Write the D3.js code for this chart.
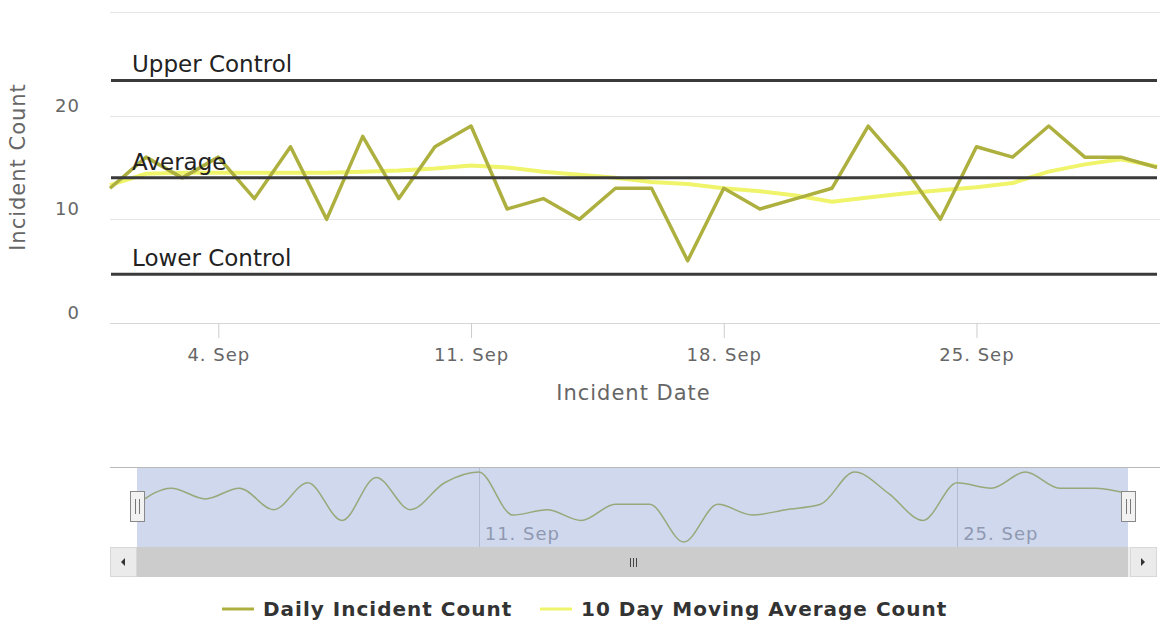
<!DOCTYPE html>
<html>
<head>
<meta charset="utf-8">
<script src="https://cdn.jsdelivr.net/npm/d3@7"></script>
<style>
  body { margin: 0; background: #fff; }
  svg text { font-family: 'DejaVu Sans', sans-serif; }
  .grid line { stroke: #e6e6e6; stroke-width: 1; }
  .tick-label { fill: #666; font-size: 18px; letter-spacing: 1px; }
  .axis-title { fill: #666; font-size: 21px; letter-spacing: 1px; }
  .control-label { fill: #222; font-size: 23px; }
  .legend-label { fill: #333; font-size: 20px; font-weight: bold; letter-spacing: 1px; }
</style>
</head>
<body>
<div id="chart"></div>
<script>
// daily points, 1. Sep .. 30. Sep
var days = ['2016-09-01','2016-09-02','2016-09-03','2016-09-04','2016-09-05','2016-09-06',
  '2016-09-07','2016-09-08','2016-09-09','2016-09-10','2016-09-11','2016-09-12',
  '2016-09-13','2016-09-14','2016-09-15','2016-09-16','2016-09-17','2016-09-18',
  '2016-09-19','2016-09-20','2016-09-21','2016-09-22','2016-09-23','2016-09-24',
  '2016-09-25','2016-09-26','2016-09-27','2016-09-28','2016-09-29','2016-09-30'];
var dailyCount = [13,16,14,16,12,17,10,18,12,17,19,11,12,10,13,13,6,13,11,12,13,19,15,10,17,16,19,16,16,15];
var movingAvg = [13.3,14.4,14.5,14.5,14.5,14.5,14.5,14.6,14.7,14.9,15.2,15.0,14.6,14.3,14.0,13.6,
  13.4,13.0,12.7,12.3,11.7,12.1,12.5,12.8,13.1,13.5,14.6,15.3,15.8,15.1];
var seriesNames = ['Daily Incident Count', '10 Day Moving Average Count'];
var seriesColors = ['#adb03e', '#eff46b'];

var controlNames = ['Upper Control', 'Average', 'Lower Control'];
var controlValues = [23.4, 14.0, 4.7];

var yTicks = [0, 10, 20];
var yGrid = [0, 10, 20, 30];
var xTicks = ['2016-09-04', '2016-09-11', '2016-09-18', '2016-09-25'];
var navTicks = ['2016-09-11', '2016-09-25'];

var W = 1160, H = 637;
var plot = { left: 110, right: 1157, top: 12, bottom: 323 };
var nav = { left: 110, right: 1157, top: 467, bottom: 547, selLeft: 137, selRight: 1128, scrollBottom: 577 };

function translation(x, y) {
  return 'translate(' + x + ',' + y + ')';
}

var parse = d3.timeParse('%Y-%m-%d'),
    fmt = d3.timeFormat('%-d. %b');

var data = days.map(function(d, i) {
  return { date: parse(d), daily: dailyCount[i], avg: movingAvg[i] };
});

var svg = d3.select('#chart').append('svg')
  .attr('width', W)
  .attr('height', H);

// SCALES
var x = d3.scaleTime()
  .domain(d3.extent(data, function(d) { return d.date; }))
  .range([plot.left, plot.right]);

var y = d3.scaleLinear()
  .domain([0, 30])
  .range([plot.bottom, plot.top]);

// GRID
svg.append('g').attr('class', 'grid')
  .selectAll('line')
  .data(yGrid)
  .enter().append('line')
    .attr('x1', plot.left)
    .attr('x2', W)
    .attr('y1', function(d) { return Math.round(y(d)) + 0.5; })
    .attr('y2', function(d) { return Math.round(y(d)) + 0.5; })
    .style('stroke', function(d) { return d === 0 ? '#d6d6d6' : null; });

// Y AXIS LABELS
svg.append('g')
  .selectAll('text')
  .data(yTicks)
  .enter().append('text')
    .attr('class', 'tick-label')
    .attr('x', 80)
    .attr('y', function(d) { return y(d) - 4; })
    .attr('text-anchor', 'end')
    .text(function(d) { return d; });

svg.append('text')
  .attr('class', 'axis-title')
  .attr('transform', translation(25, 167) + ' rotate(-90)')
  .attr('text-anchor', 'middle')
  .text('Incident Count');

// X AXIS
var xAxis = d3.axisBottom(x)
  .tickValues(xTicks.map(parse))
  .tickSize(15)
  .tickPadding(6)
  .tickFormat(fmt);

var xg = svg.append('g')
  .attr('transform', translation(0, plot.bottom))
  .call(xAxis);
xg.select('.domain').remove();
xg.selectAll('.tick line').attr('stroke', '#ccc');
xg.selectAll('.tick text')
  .attr('class', 'tick-label')
  .attr('font-family', null)
  .attr('font-size', null)
  .attr('fill', null)
  .attr('dy', '0.95em');

svg.append('text')
  .attr('class', 'axis-title')
  .attr('x', (plot.left + plot.right) / 2)
  .attr('y', 400)
  .attr('text-anchor', 'middle')
  .text('Incident Date');

// SERIES
var avgLine = d3.line()
  .x(function(d) { return x(d.date); })
  .y(function(d) { return y(d.avg); });

var dailyLine = d3.line()
  .x(function(d) { return x(d.date); })
  .y(function(d) { return y(d.daily); });

svg.append('path')
  .datum(data)
  .attr('fill', 'none')
  .attr('stroke', seriesColors[1])
  .attr('stroke-width', 4)
  .attr('stroke-linejoin', 'round')
  .attr('d', avgLine);

svg.append('path')
  .datum(data)
  .attr('fill', 'none')
  .attr('stroke', seriesColors[0])
  .attr('stroke-width', 3.5)
  .attr('stroke-linejoin', 'round')
  .attr('d', dailyLine);

// CONTROL LINES
var controls = svg.append('g')
  .selectAll('g')
  .data(controlValues)
  .enter().append('g');

controls.append('line')
  .attr('x1', plot.left + 1)
  .attr('x2', plot.right)
  .attr('y1', function(d) { return y(d); })
  .attr('y2', function(d) { return y(d); })
  .attr('stroke', '#3a3a3a')
  .attr('stroke-width', 3);

controls.append('text')
  .attr('class', 'control-label')
  .attr('x', 132)
  .attr('y', function(d) { return y(d) - 8; })
  .text(function(d, i) { return controlNames[i]; });

// NAVIGATOR
var nx = d3.scaleTime()
  .domain(x.domain())
  .range([nav.selLeft, nav.selRight]);

var ny = d3.scaleLinear()
  .domain(d3.extent(dailyCount))
  .range([542, 472]);

svg.append('rect')
  .attr('x', nav.selLeft)
  .attr('y', nav.top)
  .attr('width', nav.selRight - nav.selLeft)
  .attr('height', nav.bottom - nav.top)
  .attr('fill', '#cfd8ed');

svg.append('g')
  .selectAll('line')
  .data(navTicks)
  .enter().append('line')
    .attr('x1', function(d) { return Math.round(nx(parse(d))) + 0.5; })
    .attr('x2', function(d) { return Math.round(nx(parse(d))) + 0.5; })
    .attr('y1', nav.top)
    .attr('y2', nav.bottom)
    .attr('stroke', '#b3bcd2');

svg.append('g')
  .selectAll('text')
  .data(navTicks)
  .enter().append('text')
    .attr('class', 'tick-label')
    .attr('x', function(d) { return nx(parse(d)) + 6; })
    .attr('y', 540)
    .style('fill', '#8f99b2')
    .text(function(d) { return fmt(parse(d)); });

svg.append('path')
  .datum(data)
  .attr('fill', 'none')
  .attr('stroke', '#98a87a')
  .attr('stroke-width', 1.5)
  .attr('d', d3.line()
    .curve(d3.curveMonotoneX)
    .x(function(d) { return nx(d.date); })
    .y(function(d) { return ny(d.daily); }));

svg.append('line')
  .attr('x1', nav.left)
  .attr('x2', W)
  .attr('y1', nav.top + 0.5)
  .attr('y2', nav.top + 0.5)
  .attr('stroke', '#b8b8b8');

// scrollbar
var sb = svg.append('g');
sb.append('rect')
  .attr('x', nav.left).attr('y', nav.bottom)
  .attr('width', nav.right - nav.left).attr('height', nav.scrollBottom - nav.bottom)
  .attr('fill', '#eeeeee');
sb.append('rect')
  .attr('x', nav.selLeft).attr('y', nav.bottom)
  .attr('width', nav.selRight - nav.selLeft).attr('height', nav.scrollBottom - nav.bottom)
  .attr('fill', '#cccccc');
[nav.left, nav.right - 27].forEach(function(bx, i) {
  sb.append('rect')
    .attr('x', bx + 0.5).attr('y', nav.bottom + 0.5)
    .attr('width', 26).attr('height', nav.scrollBottom - nav.bottom - 1)
    .attr('fill', '#ebebeb')
    .attr('stroke', '#d8d8d8');
  var cx = bx + 13, cy = (nav.bottom + nav.scrollBottom) / 2;
  sb.append('path')
    .attr('d', i === 0
      ? 'M' + (cx + 2) + ',' + (cy - 4) + 'L' + (cx - 2) + ',' + cy + 'L' + (cx + 2) + ',' + (cy + 4) + 'Z'
      : 'M' + (cx - 2) + ',' + (cy - 4) + 'L' + (cx + 2) + ',' + cy + 'L' + (cx - 2) + ',' + (cy + 4) + 'Z')
    .attr('fill', '#333');
});
[-3, 0, 3].forEach(function(o) {
  var gx = Math.round((nav.selLeft + nav.selRight) / 2) + o + 0.5;
  sb.append('line')
    .attr('x1', gx).attr('x2', gx)
    .attr('y1', 558).attr('y2', 567)
    .attr('stroke', '#444');
});

// handles
[nav.selLeft, nav.selRight].forEach(function(hx) {
  var g = svg.append('g').attr('transform', translation(Math.round(hx) - 7, 491));
  g.append('rect')
    .attr('x', 0.5).attr('y', 0.5)
    .attr('width', 14).attr('height', 30)
    .attr('fill', '#f2f2f2')
    .attr('stroke', '#888');
  [5.5, 9.5].forEach(function(lx) {
    g.append('line')
      .attr('x1', lx).attr('x2', lx)
      .attr('y1', 8).attr('y2', 23)
      .attr('stroke', '#777');
  });
});

// LEGEND
var legendX = [222, 540];
var legend = svg.append('g')
  .selectAll('g')
  .data(seriesNames)
  .enter().append('g')
    .attr('transform', function(d, i) { return translation(legendX[i], 609); });

legend.append('line')
  .attr('x1', 0).attr('x2', 32)
  .attr('y1', 0).attr('y2', 0)
  .attr('stroke', function(d, i) { return seriesColors[i]; })
  .attr('stroke-width', 3);

legend.append('text')
  .attr('class', 'legend-label')
  .attr('x', 41)
  .attr('y', 7)
  .text(function(d) { return d; });
</script>
</body>
</html>
